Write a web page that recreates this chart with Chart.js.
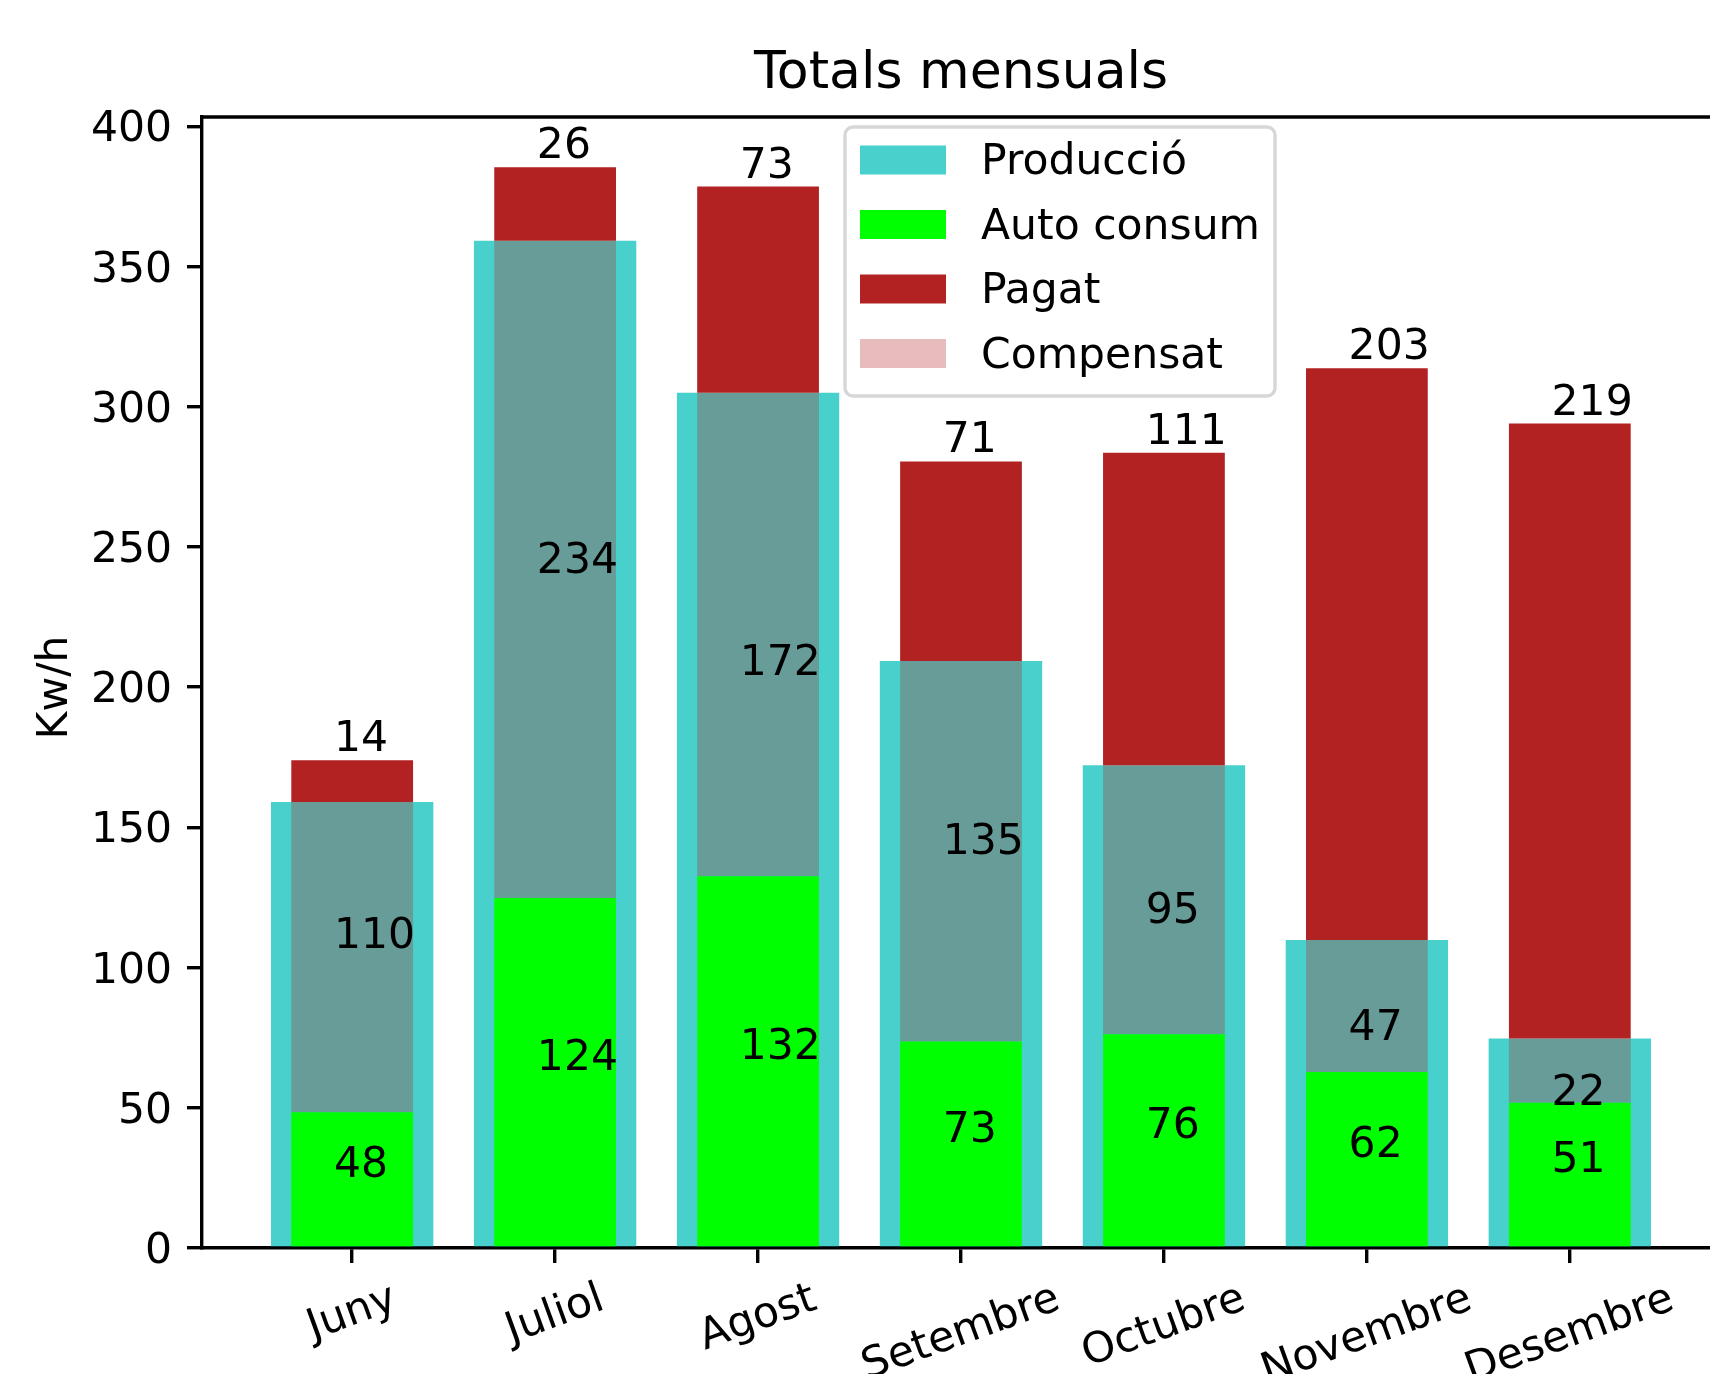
<!DOCTYPE html>
<html>
<head>
<meta charset="utf-8">
<title>Totals mensuals</title>
<script src="https://cdn.jsdelivr.net/npm/chart.js@4.4.1/dist/chart.umd.min.js"></script>
<style>
  html, body { margin: 0; padding: 0; background: #fff; overflow: hidden; }
  #wrap { width: 1710px; height: 1374px; overflow: hidden; }
  canvas { display: block; }
</style>
</head>
<body>
<div id="wrap"><canvas id="totals" width="1922" height="1374"></canvas></div>
<script>
// valors llegits del grafic (Kw/h); les etiquetes mostren la part entera
var mesos = ['Juny', 'Juliol', 'Agost', 'Setembre', 'Octubre', 'Novembre', 'Desembre'];
var autoConsum = [48.4, 124.8, 132.6, 73.6, 76.2, 62.8, 51.8];
var compensat = [110.6, 234.4, 172.4, 135.7, 95.9, 47.0, 22.9];
var pagat = [14.9, 26.2, 73.5, 71.2, 111.5, 203.9, 219.3];
var produccio = [159.0, 359.2, 305.0, 209.3, 172.1, 109.8, 74.7];
var yTicks = [0, 50, 100, 150, 200, 250, 300, 350, 400];

var FONT = 'DejaVu Sans';
var fontSize = 42.5;
var lw = 3.4;

Chart.defaults.font.family = FONT;
Chart.defaults.color = '#000';

function punts(vals) {
    return vals.map(function (v, i) { return { x: i, y: v }; });
}

// ordre de la llegenda (com a l'original)
var legendOrder = ['Producció', 'Auto consum', 'Pagat', 'Compensat'];

var plotLook = {
    id: 'plotLook',
    afterDatasetsDraw: function (chart) {
        var ctx = chart.ctx;
        var xs = chart.scales.x, ys = chart.scales.y;
        ctx.save();
        ctx.font = fontSize + 'px "' + FONT + '"';
        ctx.fillStyle = '#000';
        ctx.textAlign = 'left';
        ctx.textBaseline = 'alphabetic';
        for (var i = 0; i < mesos.length; i++) {
            var x = xs.getPixelForValue(i - 0.09);
            var a = autoConsum[i], c = compensat[i], p = pagat[i];
            ctx.fillText(String(Math.floor(a)), x, ys.getPixelForValue(a / 2) - 3);
            ctx.fillText(String(Math.floor(c)), x, ys.getPixelForValue((a + c) * 2 / 3) - 3);
            ctx.fillText(String(Math.floor(p)), x, ys.getPixelForValue(a + c + p) - 9);
        }
        ctx.restore();
    },
    afterDraw: function (chart) {
        var ctx = chart.ctx;
        var area = chart.chartArea;
        var xs = chart.scales.x;
        ctx.save();

        // marc superior i dret
        ctx.strokeStyle = '#000';
        ctx.lineWidth = lw;
        ctx.beginPath();
        ctx.moveTo(area.left - lw / 2, area.top);
        ctx.lineTo(area.right, area.top);
        ctx.lineTo(area.right, area.bottom);
        ctx.stroke();

        // titol
        ctx.fillStyle = '#000';
        ctx.font = '52px "' + FONT + '"';
        ctx.textAlign = 'center';
        ctx.textBaseline = 'alphabetic';
        ctx.fillText('Totals mensuals', (area.left + area.right) / 2, 88);

        // titol de l'eix y
        ctx.font = fontSize + 'px "' + FONT + '"';
        ctx.save();
        ctx.translate(56, (area.top + area.bottom) / 2 + 5);
        ctx.rotate(-Math.PI / 2);
        ctx.textAlign = 'center';
        ctx.textBaseline = 'middle';
        ctx.fillText('Kw/h', 0, 0);
        ctx.restore();

        // etiquetes de l'eix x, girades 20 graus
        var ang = 20 * Math.PI / 180;
        var yTop = area.bottom + 15 + 15;
        mesos.forEach(function (m, i) {
            var w = ctx.measureText(m).width;
            var bh = w * Math.sin(ang) + fontSize * Math.cos(ang);
            ctx.save();
            ctx.translate(xs.getPixelForValue(i), yTop + bh / 2);
            ctx.rotate(-ang);
            ctx.textAlign = 'center';
            ctx.textBaseline = 'alphabetic';
            ctx.fillText(m, 0, 0.262 * fontSize);
            ctx.restore();
        });

        // llegenda
        var bx = 845, by = 127, bw = 430, bhh = 269, r = 8;
        ctx.beginPath();
        ctx.moveTo(bx + r, by);
        ctx.arcTo(bx + bw, by, bx + bw, by + bhh, r);
        ctx.arcTo(bx + bw, by + bhh, bx, by + bhh, r);
        ctx.arcTo(bx, by + bhh, bx, by, r);
        ctx.arcTo(bx, by, bx + bw, by, r);
        ctx.closePath();
        ctx.fillStyle = 'rgba(255, 255, 255, 0.8)';
        ctx.fill();
        ctx.strokeStyle = 'rgba(204, 204, 204, 0.8)';
        ctx.lineWidth = lw;
        ctx.stroke();

        var sets = chart.data.datasets;
        legendOrder.forEach(function (name, k) {
            var ds = sets.filter(function (d) { return d.label === name; })[0];
            var cy = 160 + k * 64.5;
            ctx.fillStyle = ds.backgroundColor;
            ctx.fillRect(860, cy - 14.5, 86, 29);
            ctx.fillStyle = '#000';
            ctx.textAlign = 'left';
            ctx.textBaseline = 'alphabetic';
            ctx.fillText(name, 981, cy + 14);
        });

        ctx.restore();
    }
};

var chart = new Chart(document.getElementById('totals'), {
    type: 'bar',
    data: {
        datasets: [
            {
                label: 'Auto consum',
                data: punts(autoConsum),
                backgroundColor: '#00ff00',
                stack: 'consum',
                barPercentage: 0.6
            },
            {
                label: 'Compensat',
                data: punts(compensat),
                backgroundColor: 'rgba(178, 34, 34, 0.3)',
                stack: 'consum',
                barPercentage: 0.6
            },
            {
                label: 'Pagat',
                data: punts(pagat),
                backgroundColor: '#b22222',
                stack: 'consum',
                barPercentage: 0.6
            },
            {
                label: 'Producció',
                data: punts(produccio),
                backgroundColor: '#48d1cc',
                stack: 'prod',
                barPercentage: 0.8
            }
        ]
    },
    options: {
        responsive: false,
        animation: false,
        devicePixelRatio: 1,
        datasets: {
            bar: { grouped: false, categoryPercentage: 1, borderWidth: 0 }
        },
        layout: { padding: { top: 117, left: 0, right: 202, bottom: 0 } },
        plugins: {
            legend: { display: false },
            title: { display: false },
            tooltip: { enabled: false }
        },
        scales: {
            x: {
                type: 'linear',
                min: -0.74,
                max: 6.74,
                offset: false,
                afterBuildTicks: function (axis) {
                    axis.ticks = mesos.map(function (m, i) { return { value: i }; });
                },
                afterFit: function (axis) { axis.height = 126; },
                ticks: { display: false },
                grid: { offset: false, drawOnChartArea: false, tickLength: 15, lineWidth: lw, color: '#000' },
                border: { color: '#000', width: lw }
            },
            y: {
                stacked: true,
                min: 0,
                max: 403.3,
                afterBuildTicks: function (axis) {
                    axis.ticks = yTicks.map(function (v) { return { value: v }; });
                },
                afterFit: function (axis) { axis.width = 202; },
                ticks: { padding: 15, labelOffset: 4, color: '#000', font: { size: fontSize } },
                grid: { drawOnChartArea: false, tickLength: 15, lineWidth: lw, color: '#000' },
                border: { color: '#000', width: lw }
            }
        }
    },
    plugins: [plotLook]
});
</script>
</body>
</html>
